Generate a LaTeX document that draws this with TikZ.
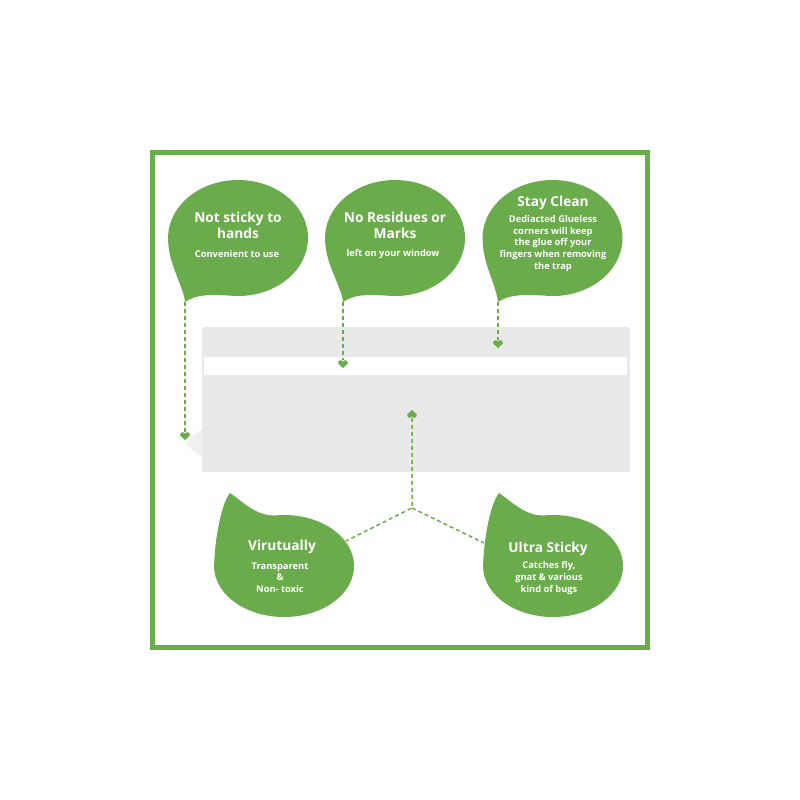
\documentclass[tikz,border=0pt]{standalone}
\usepackage{fontspec}
\setmainfont{Open Sans}
\usetikzlibrary{calc}
\definecolor{leafgreen}{RGB}{106,172,75}
\definecolor{trapgray}{RGB}{233,233,233}
\tikzstyle{tn}=[text=white, font=\bfseries\fontsize{7.8}{9.2}\selectfont, align=center, inner sep=0pt]
\tikzstyle{sn}=[text=white, font=\bfseries\fontsize{5.3}{6.6}\selectfont, align=center, inner sep=0pt]
\tikzstyle{dl}=[leafgreen, line width=0.3mm, dash pattern=on 0.8mm off 0.6mm]

% #1 tip name, #2 centre, #3 yscale, #4 y radius, #5/#6 tip, #7/#8 control
\newcommand{\leaf}[8]{%
 \begin{scope}[shift={#2}, yscale=#3]
  \fill[leafgreen] (-8.5,{0.9925*#4}) arc[start angle=97, end angle=-185, x radius=70, y radius=#4]
   .. controls (-69,{0.45*#4}) and (#7,#8) .. (#5,#6) coordinate (#1)
   .. controls ({#5+12},{#6-8}) and (-28,{0.9925*#4-1}) .. cycle;
 \end{scope}}
% #1 top name, #2 position, #3 rotation
\newcommand{\heart}[3]{%
 \begin{scope}[shift={#2}, rotate=#3]
  \fill[leafgreen] (-2.3,-1.3) circle (2.5) (2.3,-1.3) circle (2.5);
  \fill[leafgreen] (-4.6,-0.6) -- (4.6,-0.6) -- (0,4.2) -- cycle;
  \coordinate (#1) at (0,-3.8);
 \end{scope}}

\begin{document}
\begin{tikzpicture}[x=0.2mm, y=-0.2mm]
\useasboundingbox (0,0) rectangle (800,800);
\fill[white] (0,0) rectangle (800,800);
\draw[leafgreen, line width=1mm] (152.5,152.5) rectangle (647.5,647.5);

% the trap
\fill[trapgray!70, rounded corners=11] (187,430) rectangle (215,456);
\fill[trapgray] (202,327) rectangle (630,472);
\fill[white] (204,357) rectangle (627,375);

\leaf{t1}{(238,238)}{1}{58}{-53}{64}{-54}{50}
\leaf{t2}{(395,238)}{1}{58}{-52}{64}{-53}{50}
\leaf{t3}{(552.5,238)}{1}{58}{-54.5}{64}{-55.5}{50}
\leaf{t4}{(284,566)}{-1}{51}{-54}{73}{-64}{60}
\leaf{t5}{(553,566)}{-1}{51}{-54}{73}{-64}{60}

\node[tn] (a1) at (238,225) {Not sticky to\\hands};
\node[sn] (b1) at (237,254) {Convenient to use};
\node[tn] (a2) at (395,225) {No Residues or\\Marks};
\node[sn] (b2) at (393,254) {left on your window};
\node[tn] (a3) at (553,203) {Stay Clean};
\node[sn] (b3) at (553,243.5) {Dediacted Glueless\\corners will keep\\the glue off your\\fingers when removing\\the trap};
\node[tn] (a4) at (282,547) {Virutually};
\node[sn] (b4) at (280,577.5) {Transparent\\\&\\Non- toxic};
\node[tn] (a5) at (548,549) {Ultra Sticky};
\node[sn] (b5) at (549,578) {Catches fly,\\gnat \& various\\kind of bugs};

\heart{h1}{(185,436)}{0}
\heart{h2}{(343,364)}{0}
\heart{h3}{(498,344)}{0}
\heart{h4}{(412,414)}{180}
\coordinate (j) at (412,508);
\coordinate (jl) at (346,541);
\coordinate (jr) at (484,543);

\draw[dl] (t1) -- (h1);
\draw[dl] (t2) -- (h2);
\draw[dl] (t3) -- (h3);
\draw[dl] (h4) -- (j) -- (jl);
\draw[dl] (j) -- (jr);

\end{tikzpicture}
\end{document}
